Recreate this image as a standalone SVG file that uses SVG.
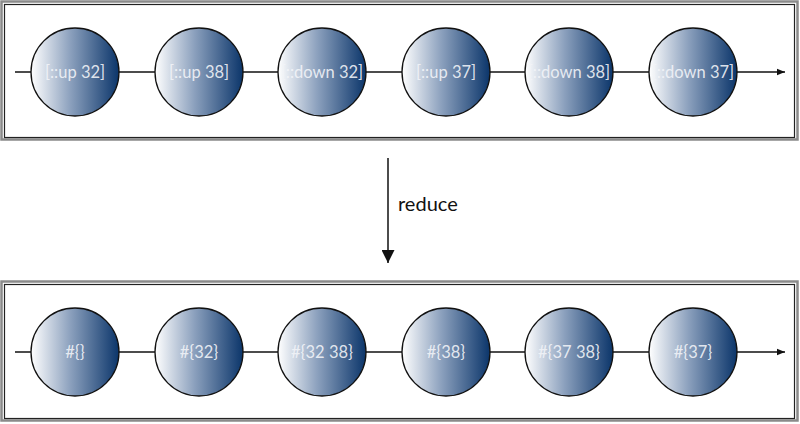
<svg xmlns="http://www.w3.org/2000/svg" width="800" height="424" viewBox="0 0 800 424">
<style>
.frame-o{fill:none;stroke:#8a8a8a;stroke-width:2.5}
.frame-i{fill:none;stroke:#222;stroke-width:1.2}
.node circle{fill:url(#g);stroke:#111;stroke-width:1.3}
.node text{font-family:Lato,"Open Sans","Liberation Sans",sans-serif;font-size:16.5px;fill:#f2f4f8;fill-opacity:0.9;text-anchor:middle;dominant-baseline:central}
.line{stroke:#111;stroke-width:1.5;fill:none}
.lbl{font-family:Lato,"Open Sans","Liberation Sans",sans-serif;font-size:20px;fill:#111}
</style>
<defs>
<linearGradient id="g" x1="0" y1="0" x2="1" y2="0">
<stop offset="0" stop-color="#ffffff"/>
<stop offset="0.45" stop-color="#8ba0bd"/>
<stop offset="1" stop-color="#0b356a"/>
</linearGradient>
<marker id="ah" viewBox="0 0 10 10" refX="10" refY="5" markerWidth="8" markerHeight="8" markerUnits="userSpaceOnUse" orient="auto">
<path d="M0,1 L10,5 L0,9 Z" fill="#111"/>
</marker>
<marker id="ah2" viewBox="0 0 10 10" refX="10" refY="5" markerWidth="13" markerHeight="13" markerUnits="userSpaceOnUse" orient="auto">
<path d="M0,0 L10,5 L0,10 Z" fill="#111"/>
</marker>
</defs>
<rect class="frame-o" x="1.5" y="1.5" width="796" height="138"/>
<rect class="frame-i" x="4.5" y="4.5" width="790" height="133"/>
<rect class="frame-o" x="1.5" y="281.5" width="796" height="139"/>
<rect class="frame-i" x="4.5" y="284.5" width="790" height="134"/>
<g id="connectors">
<line class="line" x1="15" y1="72" x2="785" y2="72" marker-end="url(#ah)"/>
<line class="line" x1="15" y1="352" x2="785" y2="352" marker-end="url(#ah)"/>
<line class="line" x1="388" y1="158" x2="388" y2="263" stroke-width="3" marker-end="url(#ah2)"/>
</g>
<text class="lbl" x="398" y="211">reduce</text>
<g id="n1" class="node"><circle cx="75" cy="72" r="44"/><text x="75" y="72">[::up 32]</text></g>
<g id="n2" class="node"><circle cx="199" cy="72" r="44"/><text x="199" y="72">[::up 38]</text></g>
<g id="n3" class="node"><circle cx="322" cy="72" r="44"/><text x="322" y="72">[::down 32]</text></g>
<g id="n4" class="node"><circle cx="446" cy="72" r="44"/><text x="446" y="72">[::up 37]</text></g>
<g id="n5" class="node"><circle cx="569" cy="72" r="44"/><text x="569" y="72">[::down 38]</text></g>
<g id="n6" class="node"><circle cx="693" cy="72" r="44"/><text x="693" y="72">[::down 37]</text></g>
<g id="m1" class="node"><circle cx="75" cy="352" r="44"/><text x="75" y="352">#{}</text></g>
<g id="m2" class="node"><circle cx="199" cy="352" r="44"/><text x="199" y="352">#{32}</text></g>
<g id="m3" class="node"><circle cx="322" cy="352" r="44"/><text x="322" y="352">#{32 38}</text></g>
<g id="m4" class="node"><circle cx="446" cy="352" r="44"/><text x="446" y="352">#{38}</text></g>
<g id="m5" class="node"><circle cx="569" cy="352" r="44"/><text x="569" y="352">#{37 38}</text></g>
<g id="m6" class="node"><circle cx="693" cy="352" r="44"/><text x="693" y="352">#{37}</text></g>
</svg>
